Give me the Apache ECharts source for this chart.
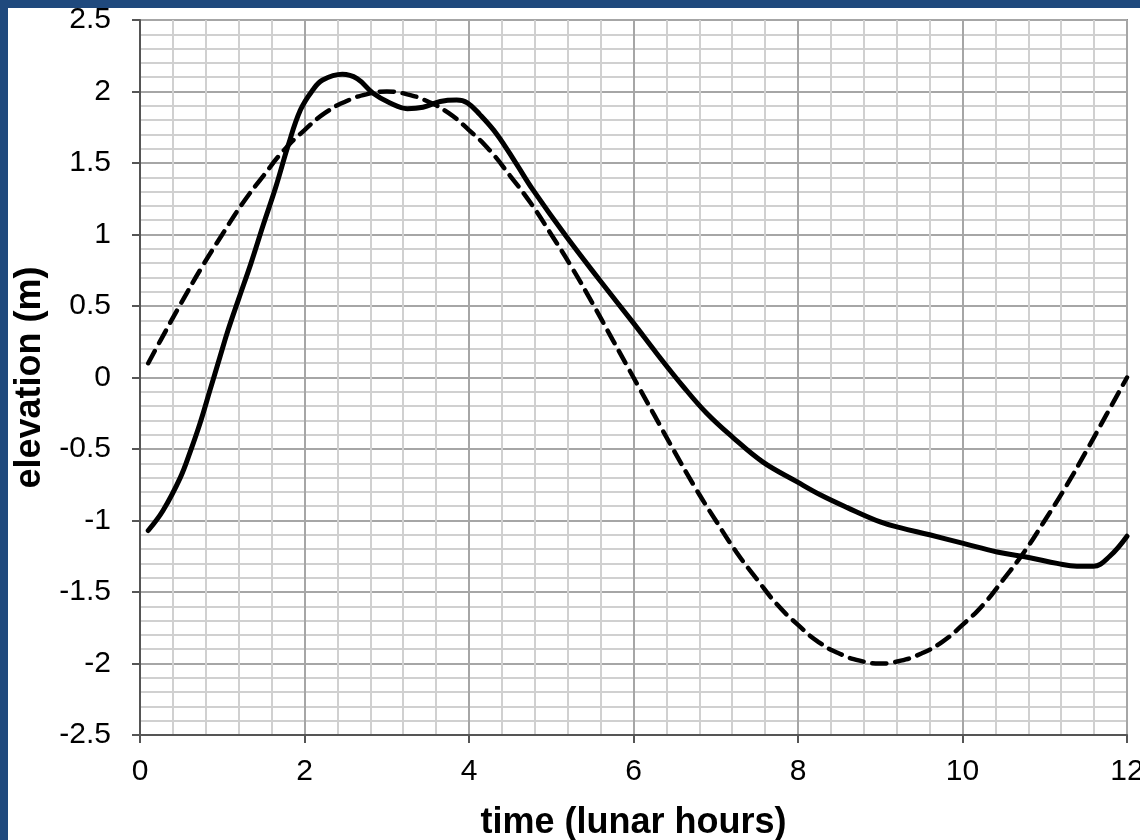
<!DOCTYPE html>
<html>
<head>
<meta charset="utf-8">
<script src="https://cdn.jsdelivr.net/npm/echarts@6/dist/echarts.min.js"></script>
<style>
html,body{margin:0;padding:0;background:#fff;}
#chart{width:1140px;height:840px;}
</style>
</head>
<body>
<div id="chart"></div>
<script>
// Observed elevation (solid line)
var solidTime = [0.1,0.28,0.49,0.61,0.73,0.85,0.97,1.07,1.2,1.35,1.5,1.65,1.8,1.95,2.1,2.22,2.46,2.64,2.83,3.04,3.25,3.44,3.65,3.85,3.98,4.13,4.34,4.58,4.78,5.19,5.59,6.0,6.28,6.6,6.89,7.21,7.57,7.99,8.27,8.6,9.0,9.24,9.6,10.01,10.42,10.82,11.15,11.39,11.59,11.79,12.0];
var solidElev = [-1.07,-0.93,-0.70,-0.52,-0.32,-0.09,0.14,0.33,0.55,0.80,1.07,1.33,1.62,1.87,2.01,2.08,2.12,2.09,1.99,1.92,1.88,1.89,1.93,1.94,1.92,1.84,1.70,1.49,1.31,0.98,0.68,0.38,0.17,-0.06,-0.25,-0.42,-0.59,-0.73,-0.82,-0.91,-1.01,-1.05,-1.10,-1.16,-1.22,-1.26,-1.30,-1.32,-1.32,-1.25,-1.11];
// Tide (dashed line)
var dashTime = [0.1,0.25,0.5,0.75,1,1.25,1.5,1.75,2,2.25,2.5,2.75,3,3.25,3.5,3.75,4,4.25,4.5,4.75,5,5.25,5.5,5.75,6,6.25,6.5,6.75,7,7.25,7.5,7.75,8,8.25,8.5,8.75,9,9.25,9.5,9.75,10,10.25,10.5,10.75,11,11.25,11.5,11.75,12];
var dashElev = [0.10,0.26,0.52,0.77,1.0,1.22,1.41,1.59,1.73,1.85,1.93,1.98,2.0,1.98,1.93,1.85,1.73,1.59,1.41,1.22,1.0,0.77,0.52,0.26,0,-0.26,-0.52,-0.77,-1.0,-1.22,-1.41,-1.59,-1.73,-1.85,-1.93,-1.98,-2.0,-1.98,-1.93,-1.85,-1.73,-1.59,-1.41,-1.22,-1.0,-0.77,-0.52,-0.26,0];
var xTitle = 'time (lunar hours)';
var yTitle = 'elevation (m)';

function pairs(t, v){ return t.map(function(x,i){ return [x, v[i]]; }); }

var chart = echarts.init(document.getElementById('chart'), null, {renderer:'canvas'});
var font = 'Liberation Sans, Arial, sans-serif';
chart.setOption({
  animation: false,
  backgroundColor: '#ffffff',
  graphic: [
    {type:'rect', left:0, top:0, shape:{width:1140, height:8}, style:{fill:'#1f497d'}},
    {type:'rect', left:0, top:0, shape:{width:8, height:840}, style:{fill:'#1f497d'}}
  ],
  grid: {left:140, right:13, top:20, bottom:105, show:true, borderColor:'#8c8c8c', borderWidth:2,
         backgroundColor:'#ffffff', containLabel:false, outerBoundsMode:'none'},
  xAxis: {
    type:'value', min:0, max:12, interval:2,
    name: xTitle, nameLocation:'middle', nameGap:70,
    nameTextStyle:{fontFamily:font, fontSize:36, fontWeight:'bold', color:'#000'},
    axisLine:{show:true, onZero:false, lineStyle:{color:'#555', width:2}},
    axisTick:{show:true, length:8, lineStyle:{color:'#555', width:2}},
    axisLabel:{fontFamily:font, fontSize:30, color:'#000', margin:22, hideOverlap:false},
    splitLine:{show:true, lineStyle:{color:'#a6a6a6', width:2}},
    minorTick:{show:false, splitNumber:5},
    minorSplitLine:{show:true, lineStyle:{color:'#d0d0d0', width:2}}
  },
  yAxis: {
    type:'value', min:-2.5, max:2.5, interval:0.5,
    name: yTitle, nameLocation:'middle', nameGap:92, nameRotate:90,
    nameTextStyle:{fontFamily:font, fontSize:36, fontWeight:'bold', color:'#000'},
    axisLine:{show:true, onZero:false, lineStyle:{color:'#555', width:2}},
    axisTick:{show:true, length:8, lineStyle:{color:'#555', width:2}},
    axisLabel:{fontFamily:font, fontSize:30, color:'#000', margin:29},
    splitLine:{show:true, lineStyle:{color:'#a6a6a6', width:2}},
    minorTick:{show:false, splitNumber:5},
    minorSplitLine:{show:true, lineStyle:{color:'#d0d0d0', width:2}}
  },
  series: [
    {type:'line', data:pairs(dashTime, dashElev), smooth:true, showSymbol:false,
     lineStyle:{color:'#000', width:4.5, type:[14,9], cap:'round'}},
    {type:'line', data:pairs(solidTime, solidElev), smooth:0.4, showSymbol:false,
     lineStyle:{color:'#000', width:5, cap:'round', join:'round'}}
  ]
});
</script>
</body>
</html>
